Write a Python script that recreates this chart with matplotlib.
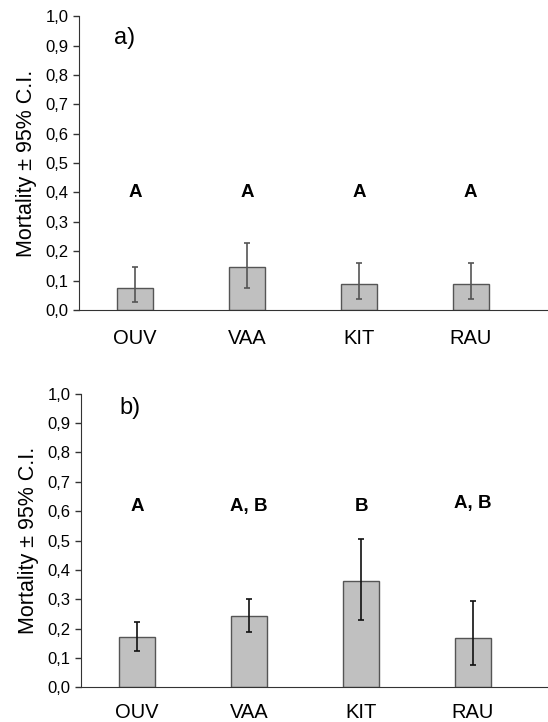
import matplotlib.pyplot as plt
from matplotlib.ticker import FuncFormatter

plt.rcParams['font.family'] = ['Liberation Sans', 'DejaVu Sans']

sites = ["OUV", "VAA", "KIT", "RAU"]

# panel a)
mort_a = [0.075, 0.145, 0.087, 0.087]
ci_low_a = [0.028, 0.074, 0.036, 0.036]
ci_high_a = [0.146, 0.228, 0.160, 0.160]
letters_a = ["A", "A", "A", "A"]
letter_y_a = [0.40, 0.40, 0.40, 0.40]

# panel b)
mort_b = [0.171, 0.242, 0.361, 0.169]
ci_low_b = [0.124, 0.188, 0.230, 0.075]
ci_high_b = [0.224, 0.301, 0.505, 0.293]
letters_b = ["A", "A, B", "B", "A, B"]
letter_y_b = [0.615, 0.615, 0.615, 0.625]

yticks = [i / 10 for i in range(11)]

fig = plt.figure(figsize=(5.48, 7.22), dpi=100)
ax_a = fig.add_axes([0.144, 0.5706, 0.856, 0.407])
ax_b = fig.add_axes([0.148, 0.048, 0.852, 0.4067])


def draw_panel(ax, mort, lo, hi, letters, ly, tag, tag_pos, errcolor, xmax, xpad):
    x = list(range(len(sites)))
    yerr = [[m - l for m, l in zip(mort, lo)], [h - m for m, h in zip(mort, hi)]]
    ax.bar(x, mort, width=0.32, color='#c0c0c0', edgecolor='#555555', linewidth=1.0, zorder=2)
    ax.errorbar(x, mort, yerr=yerr, fmt='none', ecolor=errcolor, elinewidth=1.2,
                capsize=2.5, capthick=1.2, zorder=3)
    for xi, t, yy in zip(x, letters, ly):
        ax.text(xi, yy, t, ha='center', va='center', fontsize=13.5, fontweight='bold')
    ax.text(tag_pos[0], tag_pos[1], tag, ha='center', va='center', fontsize=17)
    ax.set_xlim(-0.5, xmax)
    ax.set_ylim(0, 1.0)
    ax.set_yticks(yticks)
    ax.yaxis.set_major_formatter(FuncFormatter(lambda v, p: f"{v:.1f}".replace('.', ',')))
    ax.set_xticks(x)
    ax.set_xticklabels(sites, fontsize=14.5)
    ax.tick_params(axis='x', length=0, pad=xpad)
    ax.tick_params(axis='y', direction='out', length=4.5, width=1, labelsize=12, pad=3, color='#333333')
    ax.spines['top'].set_visible(False)
    ax.spines['right'].set_visible(False)
    ax.spines['left'].set_color('#333333')
    ax.spines['bottom'].set_color('#333333')
    ax.set_ylabel('Mortality \u00b1 95% C.I.', fontsize=15.5, labelpad=6)


draw_panel(ax_a, mort_a, ci_low_a, ci_high_a, letters_a, letter_y_a, 'a)', (-0.09, 0.925),
           '#555555', 3.69, 14)
draw_panel(ax_b, mort_b, ci_low_b, ci_high_b, letters_b, letter_y_b, 'b)', (-0.06, 0.951),
           '#111111', 3.67, 11)

fig.savefig('out.png', dpi=100)
